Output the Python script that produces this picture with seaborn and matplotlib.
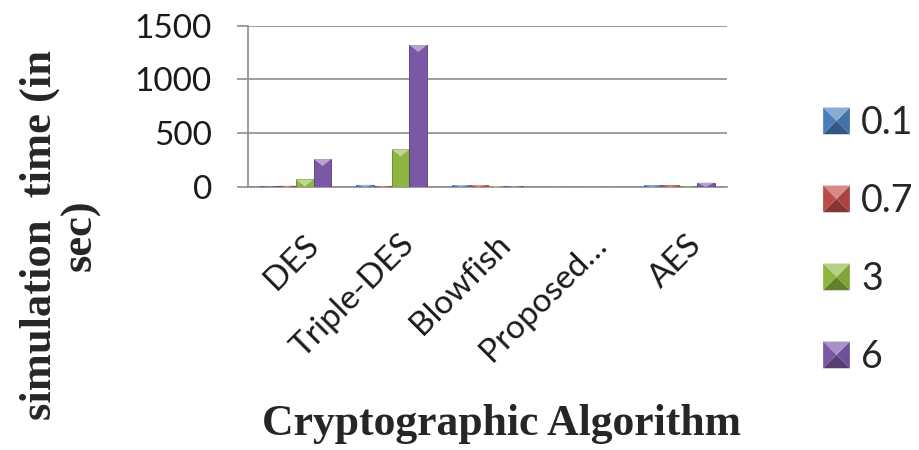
import numpy as np
import pandas as pd
import matplotlib
matplotlib.use("Agg")
import matplotlib.pyplot as plt
import matplotlib.colors as mcolors
import matplotlib.transforms as mtransforms
from matplotlib.patches import Polygon, Patch
from matplotlib.legend_handler import HandlerBase
import seaborn as sns

# Simulation time (sec) per algorithm for each data size
categories = ["DES", "Triple-DES", "Blowfish", "Proposed\u2026", "AES"]
series = ["0.1", "0.7", "3", "6"]
time_01 = [5, 20, 18, 1, 15]
time_07 = [12, 8, 18, 1, 15]
time_3 = [70, 350, 8, 2, 5]
time_6 = [260, 1320, 8, 2, 40]
yticks = [0, 500, 1000, 1500]

colors = ["#4A7EBB", "#BE4B48", "#8DB640", "#7B58A6"]

df = pd.DataFrame({
    "algorithm": categories * 4,
    "size": sum([[s] * len(categories) for s in series], []),
    "time": time_01 + time_07 + time_3 + time_6,
})

sns.set_theme(style="white")
plt.rcParams["font.family"] = ["Lato", "DejaVu Sans"]

W, H = 920, 450
fig = plt.figure(figsize=(W / 100, H / 100), dpi=100)
ax = fig.add_axes([248 / W, 1 - 187 / H, (727 - 248) / W, (187 - 25.7) / H])

sns.barplot(data=df, x="algorithm", y="time", hue="size", hue_order=series,
            order=categories, palette=colors, width=0.74, gap=0, saturation=1,
            legend=False, ax=ax, zorder=3)

gray = "#8c8c8c"
ax.set_ylim(0, 1500)
ax.set_xlim(-0.5, len(categories) - 0.5)
ax.set_yticks(yticks)
ax.set_axisbelow(True)
ax.yaxis.grid(True, color=gray, lw=1.2)
ax.xaxis.grid(False)
for s in ["top", "right"]:
    ax.spines[s].set_visible(False)
for s in ["left", "bottom"]:
    ax.spines[s].set_color(gray)
    ax.spines[s].set_linewidth(1.2)
ax.set_xlabel("")
ax.set_ylabel("")
ax.tick_params(axis="y", length=8, width=1.2, color=gray, direction="out",
               pad=18, labelsize=24, labelcolor="#1a1a1a", left=True)
ax.tick_params(axis="x", length=0, pad=38, labelsize=24, labelcolor="#1a1a1a")
label_shift = mtransforms.ScaledTranslation(18 / 100, 0, fig.dpi_scale_trans)
for lab in ax.get_xticklabels():
    lab.set_rotation(45)
    lab.set_ha("right")
    lab.set_va("center")
    lab.set_rotation_mode("anchor")
    lab.set_transform(lab.get_transform() + label_shift)


def shade(c, f):
    r, g, b = mcolors.to_rgb(c)
    if f >= 0:
        return (r + (1 - r) * f, g + (1 - g) * f, b + (1 - b) * f)
    return (r * (1 + f), g * (1 + f), b * (1 + f))


# Bevelled tops on the bars
fig.canvas.draw()
px_per_unit = ax.get_window_extent().height / 1500.0
for bar in ax.patches:
    h = bar.get_height()
    if h <= 0:
        continue
    fc = bar.get_facecolor()
    bar.set_edgecolor(shade(fc, -0.3))
    bar.set_linewidth(0.6)
    x0, w = bar.get_x(), bar.get_width()
    depth = min(7 / px_per_unit, h)
    tri = Polygon([(x0, h), (x0 + w, h), (x0 + w / 2, h - depth)],
                  closed=True, facecolor=shade(fc, 0.45), edgecolor="none",
                  zorder=4)
    ax.add_patch(tri)


class PyramidHandler(HandlerBase):
    def create_artists(self, legend, orig_handle, xdescent, ydescent,
                       width, height, fontsize, trans):
        c = orig_handle.get_facecolor()
        side = min(width, height)
        x0 = -xdescent + (width - side) / 2
        y0 = -ydescent + (height - side) / 2
        cx, cy = x0 + side / 2, y0 + side / 2
        corners = [(x0, y0), (x0 + side, y0), (x0 + side, y0 + side), (x0, y0 + side)]
        faces = [(0, 1, -0.3), (1, 2, -0.1), (2, 3, 0.35), (3, 0, 0.0)]
        arts = []
        for a, b, f in faces:
            p = Polygon([corners[a], corners[b], (cx, cy)], closed=True,
                        facecolor=shade(c, f), edgecolor="none", transform=trans)
            arts.append(p)
        return arts


handles = [Patch(facecolor=c, label=s) for c, s in zip(colors, series)]
fig.legend(handles=handles, loc="center left", bbox_to_anchor=(823 / W, 1 - 240 / H),
           frameon=False, fontsize=27, handlelength=0.72, handleheight=0.72,
           handletextpad=0.3, labelspacing=1.12, borderpad=0, borderaxespad=0,
           handler_map={Patch: PyramidHandler()})

fig.text(502 / W, 1 - 424 / H, "Cryptographic Algorithm", ha="center", va="center",
         fontsize=31.5, fontweight="bold", family="Liberation Serif")
fig.text(60 / W, 1 - 235 / H, "simulation  time (in\nsec)", ha="center", va="center",
         rotation=90, multialignment="center", linespacing=1.0,
         fontsize=32, fontweight="bold", family="Liberation Serif")

fig.savefig("out.png", dpi=100)
